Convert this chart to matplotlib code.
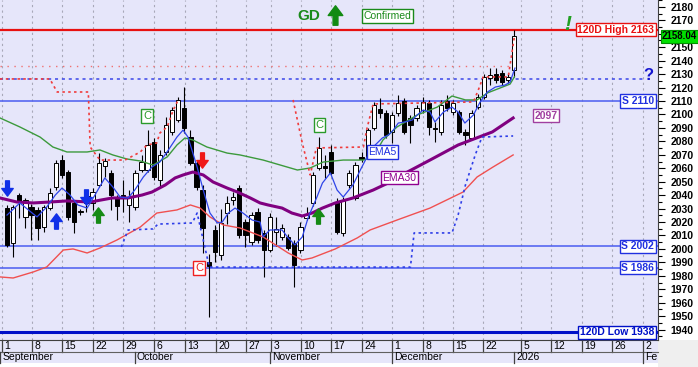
import matplotlib
matplotlib.use("Agg")
import matplotlib.pyplot as plt
from matplotlib.path import Path
from matplotlib.patches import Rectangle
from matplotlib.transforms import blended_transform_factory
from matplotlib.ticker import MultipleLocator

plt.rcParams['font.family'] = ['Liberation Sans', 'DejaVu Sans']

# ---- daily candles, slot 0 = first bar of September 2025 ----
opens = [2030.4, 2004.2, 2040.1, 2023.8, 2031.2, 2029.0, 2016.3, 2030.4, 2046.1, 2066.1,
         2057.2, 2034.2, 2027.5, 2039.4, 2034.2, 2047.6, 2061.7, 2056.5, 2037.9, 2040.1,
         2032.7, 2031.2, 2058.7, 2058.7, 2079.5, 2051.3, 2072.1, 2087.0, 2095.9, 2104.8,
         2083.2, 2063.9, 2043.8, 1990.0, 2014.1, 1995.5, 2026.7, 2036.4, 2045.3, 2020.1,
         2005.2, 2027.5, 2011.9, 1999.2, 2012.5, 2008.9, 2008.9, 2004.4, 1999.2, 2023.0,
         2034.2, 2060.2, 2061.7, 2072.1, 2034.9, 2011.9, 2047.6, 2037.9, 2068.4, 2068.4,
         2090.0, 2104.1, 2101.1, 2087.0, 2101.1, 2110.0, 2097.4, 2097.4, 2103.3, 2108.5,
         2090.0, 2087.0, 2110.0, 2101.8, 2101.8, 2087.0, 2082.5, 2105.5, 2113.0, 2127.1,
         2130.1, 2130.8, 2125.6, 2133.0]
highs = [2032.7, 2032.7, 2041.6, 2037.9, 2033.5, 2031.2, 2032.7, 2045.3, 2066.1, 2069.9,
         2058.7, 2036.4, 2029.7, 2042.3, 2045.3, 2071.3, 2067.6, 2058.7, 2040.1, 2051.3,
         2043.8, 2058.7, 2069.9, 2088.4, 2082.5, 2073.6, 2098.1, 2105.5, 2113.0, 2120.4,
         2088.4, 2066.1, 2047.6, 1996.0, 2017.8, 2030.0, 2039.4, 2042.3, 2047.6, 2022.3,
         2027.5, 2030.4, 2014.1, 2026.7, 2024.0, 2018.5, 2011.2, 2006.7, 2020.0, 2031.2,
         2057.2, 2083.2, 2069.9, 2077.3, 2037.9, 2038.6, 2058.7, 2064.6, 2072.1, 2090.0,
         2109.3, 2112.2, 2103.3, 2101.8, 2114.5, 2112.2, 2099.6, 2107.0, 2113.0, 2110.8,
         2094.4, 2110.8, 2114.5, 2110.8, 2103.3, 2089.2, 2103.3, 2115.2, 2130.1, 2134.5,
         2134.5, 2133.0, 2130.8, 2163.0]
lows = [2001.5, 1994.0, 2023.0, 2015.6, 2006.7, 2006.7, 2012.6, 2029.0, 2043.8, 2052.8,
        2021.5, 2011.9, 2025.3, 2027.5, 2029.0, 2046.1, 2053.5, 2029.0, 2021.5, 2027.5,
        2020.0, 2029.0, 2057.2, 2057.2, 2051.3, 2046.1, 2069.9, 2084.7, 2094.4, 2086.2,
        2062.4, 2043.8, 1997.0, 1949.4, 1990.0, 1992.0, 2018.5, 2032.7, 2008.2, 2001.5,
        2003.0, 2004.4, 1979.2, 1997.8, 2002.0, 2006.7, 1999.2, 1971.7, 1997.0, 2021.5,
        2031.9, 2058.7, 2052.8, 2055.0, 2011.2, 2009.7, 2045.3, 2036.4, 2064.6, 2066.9,
        2088.4, 2097.4, 2082.5, 2078.8, 2098.9, 2085.5, 2078.8, 2095.2, 2101.1, 2084.7,
        2079.5, 2084.7, 2102.5, 2099.6, 2085.5, 2077.3, 2081.0, 2104.1, 2111.5, 2121.9,
        2123.4, 2121.9, 2123.4, 2128.0]
closes = [2003.0, 2031.2, 2034.9, 2036.4, 2025.3, 2015.6, 2031.2, 2041.6, 2063.9, 2055.0,
          2023.8, 2020.0, 2028.2, 2034.2, 2042.3, 2063.9, 2065.4, 2040.1, 2032.0, 2037.9,
          2037.9, 2056.5, 2064.6, 2077.3, 2053.5, 2069.9, 2092.2, 2103.3, 2110.8, 2089.9,
          2063.9, 2046.1, 2015.6, 1987.5, 1997.8, 2019.3, 2034.2, 2038.6, 2010.4, 2010.4,
          2025.3, 2006.7, 1999.2, 2023.8, 2014.5, 2015.6, 2000.7, 1988.1, 2016.3, 2025.3,
          2055.0, 2075.1, 2060.2, 2056.5, 2012.6, 2036.4, 2056.5, 2062.4, 2066.9, 2088.4,
          2107.0, 2101.1, 2084.7, 2099.6, 2108.5, 2087.0, 2092.2, 2104.8, 2109.3, 2090.7,
          2089.2, 2107.0, 2104.8, 2108.5, 2087.0, 2084.7, 2101.1, 2113.0, 2127.9, 2129.3,
          2125.6, 2124.1, 2127.9, 2158.04]

# ---- indicator lines (slot, price) ----
ema5_x = [0.0, 2.1, 4.9, 6.5, 7.9, 9.0, 10.3, 11.6, 13.1, 14.1, 16.0, 17.3, 18.5, 19.8, 20.9,
          22.3, 23.7, 25.0, 26.4, 27.8, 28.8, 29.6, 31.1, 32.1, 33.2, 34.4, 35.2, 36.2, 37.3,
          38.6, 40.1, 41.4, 41.9, 43.0, 45.0, 46.0, 47.1, 48.3, 49.3, 50.7, 51.6, 52.9, 54.0,
          55.0, 56.6, 57.8, 58.9, 59.9, 61.4, 62.4, 63.2, 64.0, 65.1, 66.3, 67.1, 68.1, 69.2,
          70.0, 71.4, 72.8, 73.8, 74.9, 76.3, 77.4, 78.6, 79.9, 81.5, 82.3, 83.1]
ema5_y = [2025.2, 2034.2, 2023.8, 2031.2, 2040.1, 2045.3, 2040.1, 2032.7, 2030.4, 2037.9,
          2052.8, 2046.1, 2038.6, 2037.9, 2043.8, 2053.5, 2060.9, 2064.6, 2073.6, 2083.2,
          2088.4, 2083.2, 2060.9, 2043.8, 2026.7, 2019.3, 2020.0, 2026.7, 2030.4, 2026.7,
          2021.5, 2020.0, 2008.9, 2014.1, 2014.1, 2008.2, 2003.0, 2008.9, 2023.8, 2038.6,
          2049.0, 2056.5, 2043.8, 2038.6, 2047.6, 2058.7, 2068.4, 2075.8, 2082.5, 2084.7,
          2088.4, 2093.6, 2094.4, 2095.9, 2099.6, 2103.3, 2101.8, 2094.4, 2101.8, 2105.5,
          2101.8, 2093.6, 2099.6, 2109.3, 2116.7, 2120.4, 2121.9, 2124.1, 2134.5]

green_x = [-1.15, 2.1, 5.4, 7.5, 9.8, 13.1, 15.2, 17.3, 19.6, 21.8, 23.9, 26.2, 27.8, 29.1,
           30.4, 32.7, 36.0, 38.1, 41.9, 47.5, 49.6, 51.7, 55.0, 58.3, 59.9, 61.5, 63.8, 67.1,
           70.4, 72.8, 75.0, 76.9, 78.6, 82.3, 83.0]
green_y = [2097.4, 2090.7, 2083.2, 2075.8, 2072.1, 2072.1, 2073.6, 2069.9, 2066.9, 2065.4,
           2062.4, 2068.4, 2077.3, 2082.5, 2081.0, 2075.8, 2071.3, 2069.9, 2066.1, 2058.7,
           2060.2, 2064.6, 2066.1, 2066.1, 2068.4, 2081.0, 2090.7, 2099.6, 2105.5, 2113.7,
           2110.8, 2110.8, 2116.0, 2122.6, 2127.9]

ema30_x = [-1.15, 1.6, 4.3, 7.0, 9.8, 13.6, 17.2, 19.8, 22.1, 23.7, 25.9, 27.5, 28.8, 30.4,
           32.1, 33.7, 36.0, 37.7, 39.8, 41.4, 42.7, 45.0, 46.6, 48.3, 49.9, 51.6, 53.7, 56.6,
           59.9, 62.7, 65.5, 69.2, 73.8, 79.4, 82.8]
ema30_y = [2037.9, 2034.9, 2034.2, 2034.9, 2035.7, 2034.9, 2037.9, 2037.9, 2040.1, 2042.3,
           2047.6, 2052.8, 2055.0, 2057.2, 2055.0, 2049.8, 2045.3, 2042.3, 2037.9, 2034.2,
           2032.7, 2030.4, 2026.7, 2024.5, 2026.7, 2030.4, 2034.2, 2037.9, 2043.8, 2049.8,
           2057.2, 2066.1, 2077.3, 2087.0, 2097.4]

slow_x = [-1.15, 1.0, 4.3, 6.5, 9.2, 10.8, 13.1, 15.2, 18.0, 21.8, 24.5, 27.8, 30.0, 31.6,
          33.2, 35.4, 38.1, 41.9, 46.0, 48.3, 49.9, 52.0, 53.7, 57.3, 59.4, 63.8, 69.2, 74.6,
          76.9, 79.5, 82.8]
slow_y = [1979.2, 1978.4, 1982.9, 1986.6, 1999.2, 2000.0, 1997.0, 2000.7, 2006.7, 2016.3,
          2026.7, 2029.0, 2032.7, 2030.4, 2023.8, 2017.8, 2015.6, 2008.9, 1997.0, 1991.8,
          1993.3, 1997.0, 2000.0, 2008.2, 2014.1, 2021.5, 2030.4, 2042.3, 2053.5, 2060.9,
          2069.9]

# trailing stops
stop_red_a_x = [-1.15, 7.0, 8.2, 13.3, 13.6, 15.2, 19.3, 21.8, 22.9, 24.5, 25.0, 26.2, 27.2, 28.0]
stop_red_a_y = [2126.4, 2126.4, 2116.7, 2116.7, 2075.8, 2066.1, 2066.1, 2072.1, 2077.3,
                2078.8, 2086.2, 2090.7, 2103.3, 2110.8]
stop_red_b_x = [46.8, 48.3, 49.6, 50.6, 58.3, 58.9, 59.9, 76.3, 77.1, 77.9, 82.0, 83.0]
stop_red_b_y = [2110.8, 2078.8, 2055.0, 2075.1, 2075.8, 2089.9, 2107.8, 2109.3, 2118.2,
                2127.9, 2127.9, 2157.6]
stop_blue_x = [18.7, 19.8, 23.9, 24.7, 30.3, 31.1, 33.1, 66.0, 66.6, 72.8, 73.8, 75.0, 76.6,
               77.7, 82.8]
stop_blue_y = [2001.5, 2014.1, 2014.9, 2018.5, 2019.3, 2026.7, 1986.5, 1986.5, 2011.9,
               2011.9, 2025.3, 2047.6, 2069.9, 2083.2, 2084.0]

high_120d = 2163
low_120d = 1938
supports = [2110, 2002, 1986]
red_dot_level = 2136
blue_dot_level = 2126.4
last_price = 2158.04
ema30_last = 2097

# x axis labels
tick_pos = [-0.8, 4.1, 9.0, 14.1, 19.0, 24.1, 29.1, 34.2, 39.1, 43.2, 48.1, 53.0, 58.1,
            63.0, 68.1, 73.0, 77.9, 84.1, 89.0, 94.1, 99.0, 104.1]
tick_labels = ['1', '8', '15', '22', '29', '6', '13', '20', '27', '3', '10', '17', '24',
               '1', '8', '15', '22', '5', '12', '19', '26', '2']
month_pos = [-1.15, 20.9, 43.0, 63.0, 83.0, 104.1]
month_labels = ['September', 'October', 'November', 'December', '2026', 'Feb']

W, H = 698, 367
LAV = '#e6e6fa'
fig = plt.figure(figsize=(W / 100, H / 100), dpi=100, facecolor='white')
ax = fig.add_axes([0, 27 / H, 658 / W, 340 / H])
ax.set_facecolor(LAV)
ax.set_xlim(-1.15, 106.5)
ax.set_ylim(1932.3, 2185.1)

# date rows background and the empty corner under the price axis
fig.patches.append(Rectangle((0, 4 / H), 658 / W, 23 / H, transform=fig.transFigure,
                             fc=LAV, ec='none', zorder=-5))
fig.patches.append(Rectangle((658 / W, 0), 40 / W, 27 / H, transform=fig.transFigure,
                             fc='#efefef', ec='none', zorder=-5))

# grid at week ticks
for p in tick_pos:
    ax.axvline(p, color='#a8a8b8', lw=0.8, ls=(0, (2, 3)), zorder=0)

# horizontal levels
ax.axhline(high_120d, color='#e81010', lw=1.6, zorder=2)
ax.axhline(low_120d, color='#0010c8', lw=2.2, zorder=2)
for s in supports:
    ax.axhline(s, color='#4a5cf0', lw=1.1, zorder=2)
ax.plot([-1.15, 83.5], [red_dot_level, red_dot_level], color='#f07070', lw=1.0,
        ls=(0, (1, 4)), zorder=2)
ax.plot([-1.15, 104.5], [blue_dot_level, blue_dot_level], color='#3a46e8', lw=1.1,
        ls=(0, (2, 2.5)), zorder=2)

# candles
idx = list(range(len(closes)))
ax.vlines(idx, lows, highs, color='black', lw=0.8, zorder=3)
for i, o, c in zip(idx, opens, closes):
    lo, hi = min(o, c), max(o, c)
    ax.bar(i, max(hi - lo, 0.7), bottom=lo, width=0.7,
           color='white' if c >= o else 'black', edgecolor='black', lw=0.7, zorder=4)

# indicator lines
ax.plot(slow_x, slow_y, color='#f05050', lw=1.0, zorder=5)
ax.plot(green_x, green_y, color='#3c9a3c', lw=1.0, zorder=5)
ax.plot(ema30_x, ema30_y, color='#800080', lw=2.2, zorder=5)
ax.plot(ema5_x, ema5_y, color='#2e44e8', lw=0.9, zorder=6)
ax.plot(stop_red_a_x, stop_red_a_y, color='#f03c3c', lw=1.2, ls=(0, (1.5, 2)), zorder=6)
ax.plot(stop_red_b_x, stop_red_b_y, color='#f03c3c', lw=1.2, ls=(0, (1.5, 2)), zorder=6)
ax.plot(stop_blue_x, stop_blue_y, color='#2e3ee8', lw=1.2, ls=(0, (1.5, 2)), zorder=6)

# arrows
up = Path([(-0.25, -1), (0.25, -1), (0.25, 0), (0.75, 0), (0, 1), (-0.75, 0), (-0.25, 0),
           (-0.25, -1)],
          [Path.MOVETO] + [Path.LINETO] * 6 + [Path.CLOSEPOLY])
down = Path([(x, -y) for x, y in up.vertices], up.codes)
ax.plot(0.0, 2045.3, marker=down, ms=11, color='#1030e8', zorder=7, ls='none')
ax.plot(12.9, 2038.6, marker=down, ms=11, color='#1030e8', zorder=7, ls='none')
ax.plot(8.0, 2020.8, marker=up, ms=11, color='#1030e8', zorder=7, ls='none')
ax.plot(14.9, 2025.3, marker=up, ms=11, color='#158a15', zorder=7, ls='none')
ax.plot(50.9, 2024.3, marker=up, ms=11, color='#158a15', zorder=7, ls='none')
ax.plot(31.9, 2066.1, marker=down, ms=11, color='#f01818', zorder=7, ls='none')
ax.plot(53.7, 2174.0, marker=up, ms=14, color='#128a12', zorder=7, ls='none')


def box(x, y, s, col, fs=7.5, ha='center', **kw):
    ax.text(x, y, s, color=col, fontsize=fs, ha=ha, va='center', zorder=8,
            bbox=dict(boxstyle='square,pad=0.15', fc='white', ec=col, lw=1.0), **kw)


box(22.9, 2098.9, 'C', '#2a9a2a', fs=8)
box(51.1, 2092.2, 'C', '#2a9a2a', fs=8)
box(31.4, 1985.8, 'C', '#f02020', fs=8)
box(61.4, 2072.1, 'EMA5', '#2030e0')
box(64.2, 2052.8, 'EMA30', '#900090')
box(88.2, 2098.9, str(ema30_last), '#a040a0', fontweight='bold')
box(62.2, 2173.2, 'Confirmed', '#1a8a1a', fs=7.5)
ax.text(49.4, 2173.4, 'GD', color='#1a8a1a', fontsize=11, fontweight='bold',
        ha='center', va='center', zorder=8)
ax.text(91.7, 2167.0, '!', color='#22a022', fontsize=15, fontweight='bold',
        style='italic', ha='center', va='center', zorder=8)
ax.text(104.9, 2129.3, '?', color='#1414d0', fontsize=12, fontweight='bold',
        ha='center', va='center', zorder=8)

xr = 105.85
box(xr, high_120d, '120D High %d' % high_120d, '#e81010', ha='right', fontweight='bold')
for s in supports:
    box(xr, s, 'S %d' % s, '#2030e0', ha='right', fontweight='bold')
box(xr, low_120d, '120D Low %d' % low_120d, '#0010c8', ha='right', fontweight='bold')

# right price axis
ax.yaxis.tick_right()
ax.set_yticks(list(range(1940, 2181, 10)))
ax.yaxis.set_minor_locator(MultipleLocator(5))
ax.tick_params(axis='y', which='major', length=5, width=0.8, pad=4, labelsize=7.5)
ax.tick_params(axis='y', which='minor', length=3, width=0.8)
for lab in ax.get_yticklabels():
    lab.set_fontweight('bold')

# last price tag on the axis
tr = blended_transform_factory(ax.transAxes, ax.transData)
ax.text(1.006, last_price, '%.2f' % last_price, transform=tr, fontsize=7,
        fontweight='bold', ha='left', va='center', zorder=9, clip_on=False,
        bbox=dict(boxstyle='square,pad=0.12', fc='#00e000', ec='#009000', lw=0.8))

# bottom date rows
ax.set_xticks([])
for sp in ['top', 'left']:
    ax.spines[sp].set_visible(False)
ax.spines['right'].set_color('#404040')
ax.spines['bottom'].set_color('#404040')

bt = blended_transform_factory(ax.transData, ax.transAxes)
clip = Rectangle((0, 0), 658 / W, 1, transform=fig.transFigure)
row1, row2 = -12 / 340, -23 / 340
for p, lab in zip(tick_pos, tick_labels):
    ax.plot([p, p], [0, row1], color='#404040', lw=0.9, transform=bt, clip_on=False)
    t = ax.text(p + 0.35, -6 / 340, lab, transform=bt, fontsize=7.5, ha='left',
                va='center')
    t.set_clip_path(clip)
    t.set_clip_on(True)
ax.plot([-1.15, 106.5], [row1, row1], color='#606060', lw=0.8, transform=bt, clip_on=False)
for p, lab in zip(month_pos, month_labels):
    ax.plot([p, p], [row1, row2], color='#404040', lw=0.9, transform=bt, clip_on=False)
    t = ax.text(p + 0.35, -17.5 / 340, lab, transform=bt, fontsize=7.5, ha='left',
                va='center')
    t.set_clip_path(clip)
    t.set_clip_on(True)

fig.savefig('out.png', dpi=100, facecolor=fig.get_facecolor())
